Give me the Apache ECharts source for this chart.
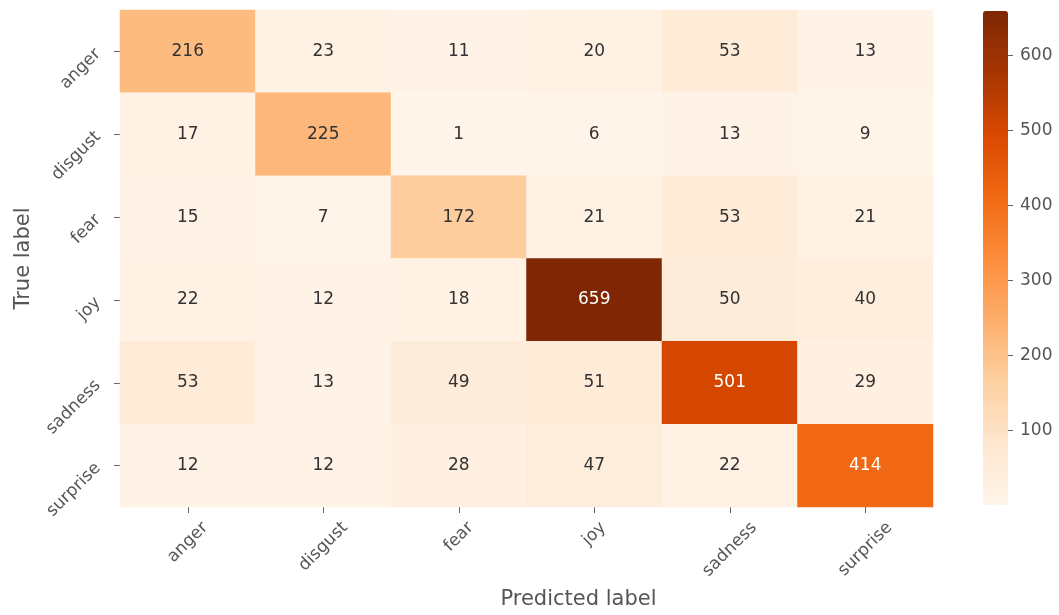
<!DOCTYPE html>
<html>
<head>
<meta charset="utf-8">
<style>
  html, body { margin: 0; padding: 0; background: #fff; }
  #chart { width: 1059px; height: 615px; }
</style>
<script src="https://cdn.jsdelivr.net/npm/echarts@6/dist/echarts.min.js"></script>
</head>
<body>
<div id="chart"></div>
<script>
// Emotion classes (shared by both axes)
const labels = ['anger', 'disgust', 'fear', 'joy', 'sadness', 'surprise'];

// Confusion matrix rows: true label, columns: predicted label
const rowAnger    = [216, 23, 11, 20, 53, 13];
const rowDisgust  = [17, 225, 1, 6, 13, 9];
const rowFear     = [15, 7, 172, 21, 53, 21];
const rowJoy      = [22, 12, 18, 659, 50, 40];
const rowSadness  = [53, 13, 49, 51, 501, 29];
const rowSurprise = [12, 12, 28, 47, 22, 414];

// Colour bar ticks
const colorbarTicks = [100, 200, 300, 400, 500, 600];

// Matplotlib "Oranges" colour map
const oranges = ['#fff5eb', '#fee6ce', '#fdd0a2', '#fdae6b', '#fd8d3c',
                 '#f16913', '#d94801', '#a63603', '#7f2704'];

const rows = [rowAnger, rowDisgust, rowFear, rowJoy, rowSadness, rowSurprise];
let vMin = Infinity, vMax = -Infinity;
rows.forEach(r => r.forEach(v => { vMin = Math.min(vMin, v); vMax = Math.max(vMax, v); }));

const cells = [];
rows.forEach((r, yi) => r.forEach((v, xi) => {
  const dark = (v - vMin) / (vMax - vMin) > 0.5;
  cells.push({
    value: [xi, yi, v],
    label: { color: dark ? '#ffffff' : '#333333' }
  });
}));

const textGray = '#555555';
const font = 'DejaVu Sans';
const tickFontSize = 17;

// Rotated bottom labels: centre each label's bounding box under its tick
// and keep the box tops level, by padding the text box by half its width.
const measureCtx = document.createElement('canvas').getContext('2d');
measureCtx.font = tickFontSize + 'px "' + font + '"';
const xRich = {};
labels.forEach((name, i) => {
  const w = measureCtx.measureText(name).width;
  xRich['c' + i] = {
    fontSize: tickFontSize,
    fontFamily: font,
    color: textGray,
    padding: [w / 2, w / 2, 0, 0]
  };
});

const chart = echarts.init(document.getElementById('chart'));
chart.setOption({
  animation: false,
  textStyle: { fontFamily: font },
  grid: [
    { left: 120, top: 10, width: 813, height: 497 },
    { left: 983, top: 11, width: 25, height: 494 }
  ],
  xAxis: [
    {
      gridIndex: 0,
      type: 'category',
      data: labels,
      name: 'Predicted label',
      nameLocation: 'middle',
      nameGap: 82,
      nameTextStyle: { fontSize: 21, color: textGray, fontFamily: font, padding: [0, 0, 0, 104] },
      axisLine: { show: false },
      axisTick: { show: true, alignWithLabel: true, length: 6, lineStyle: { color: '#666' } },
      axisLabel: {
        interval: 0,
        rotate: 45,
        align: 'center',
        verticalAlign: 'middle',
        margin: 18,
        fontSize: tickFontSize,
        color: textGray,
        fontFamily: font,
        formatter: (name) => '{c' + labels.indexOf(name) + '|' + name + '}',
        rich: xRich
      },
      splitLine: { show: false }
    },
    {
      gridIndex: 1,
      type: 'category',
      data: [''],
      show: false
    }
  ],
  yAxis: [
    {
      gridIndex: 0,
      type: 'category',
      data: labels,
      inverse: true,
      name: 'True label',
      nameLocation: 'middle',
      nameGap: 86,
      nameRotate: 90,
      nameMoveOverlap: false,
      nameTextStyle: { fontSize: 21, color: textGray, fontFamily: font },
      axisLine: { show: false },
      axisTick: { show: true, alignWithLabel: true, length: 6, lineStyle: { color: '#666' } },
      axisLabel: { interval: 0, rotate: 45, fontSize: tickFontSize, color: textGray, margin: 22, fontFamily: font },
      splitLine: { show: false }
    },
    {
      gridIndex: 1,
      type: 'value',
      position: 'right',
      min: vMin,
      max: vMax,
      axisLine: { show: false },
      splitLine: { show: false },
      axisTick: { show: true, length: 5, customValues: colorbarTicks, lineStyle: { color: '#666' } },
      axisLabel: { fontSize: tickFontSize, color: textGray, margin: 12, customValues: colorbarTicks, fontFamily: font }
    }
  ],
  visualMap: {
    type: 'continuous',
    min: vMin,
    max: vMax,
    seriesIndex: 0,
    calculable: false,
    text: null,
    showLabel: false,
    left: 983,
    top: 11,
    padding: 0,
    itemWidth: 25,
    itemHeight: 494,
    inRange: { color: oranges }
  },
  series: [
    {
      type: 'heatmap',
      xAxisIndex: 0,
      yAxisIndex: 0,
      data: cells,
      label: { show: true, fontSize: 17, fontFamily: font, formatter: p => String(p.value[2]) },
      itemStyle: { borderWidth: 0 },
      emphasis: { disabled: true }
    }
  ]
});
</script>
</body>
</html>
